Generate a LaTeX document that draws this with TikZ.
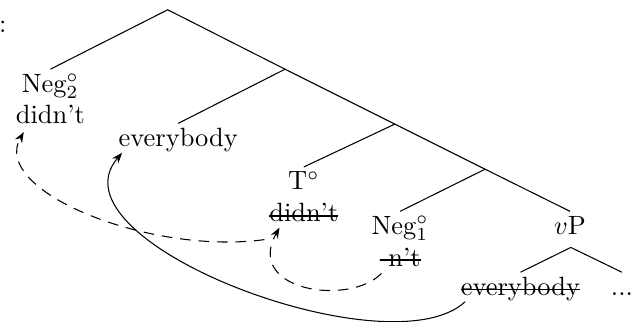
\documentclass[tikz,border=0pt]{standalone}
\usetikzlibrary{arrows.meta,calc}
\newcommand\strk[1]{\setbox0\hbox{#1}\rlap{\rule[1.9pt]{\wd0}{0.6pt}}\box0}
\begin{document}
\begin{tikzpicture}[
  lbl/.style={inner sep=0.5pt,text height=8pt,anchor=north},
  low/.style={inner sep=0.5pt,anchor=base},
  br/.style={line width=0.4pt},
  mv/.style={-{Stealth[length=4pt,width=3pt]}},
  mvd/.style={mv,dash pattern=on 4pt off 3pt}]
\useasboundingbox (0,0) rectangle (8.39,4.27);
\node[inner sep=0pt,anchor=base west] (colon) at (-0.02,3.84) {:};
% ---- spine
\coordinate (root) at (2.23,4.14);
\coordinate (n1) at (3.79,3.35);
\coordinate (n2) at (5.25,2.62);
\coordinate (n3) at (6.45,2.02);
\coordinate (vpx) at (7.59,0.98);
% ---- labels
\node[lbl] (neg2) at (0.67,3.35) {Neg$^\circ_2$};
\node[low] (didnt2) at ([yshift=-12pt]neg2.base) {didn't};
\node[lbl] (ev) at (2.37,2.63) {everybody};
\node[lbl] (t) at (4.04,2.05) {T$^\circ$};
\node[low] (didnt1) at ([yshift=-12pt]t.base) {\strk{didn't}};
\node[lbl] (neg1) at (5.32,1.46) {Neg$^\circ_1$};
\node[low] (nt) at ([yshift=-12pt]neg1.base) {\strk{-n't}};
\node[lbl] (vp) at (7.58,1.46) {$v$P};
\node[lbl] (ev2) at (6.92,0.65) {\strk{everybody}};
\node[lbl] (dots) at (8.27,0.65) {...};
% ---- branches
\draw[br] (neg2.north) -- (root) -- (n1) -- (n2) -- (n3) -- (vp.north);
\draw[br] (n1) -- (ev.north);
\draw[br] (n2) -- (t.north);
\draw[br] (n3) -- (neg1.north);
\draw[br] (ev2.north) -- (vpx) -- (dots.north);
% ---- movement
\draw[mvd] ([shift={(-0.04,-0.21)}]didnt1.south west) .. controls +(-1.53,-0.21) and +(-0.45,-0.78) .. ([shift={(0.13,-0.08)}]didnt2.south west);
\draw[mvd] ([shift={(0.05,-0.07)}]nt.south west) .. controls +(-0.43,-0.44) and +(-0.47,-0.84) .. ([shift={(0.16,-0.05)}]didnt1.south west);
\draw[mv] ([shift={(0.08,0.01)}]ev2.south west) .. controls +(-1.0,-0.93) and +(-1.02,-1.18) .. ([shift={(0.07,0.01)}]ev.south west);
\end{tikzpicture}
\end{document}
